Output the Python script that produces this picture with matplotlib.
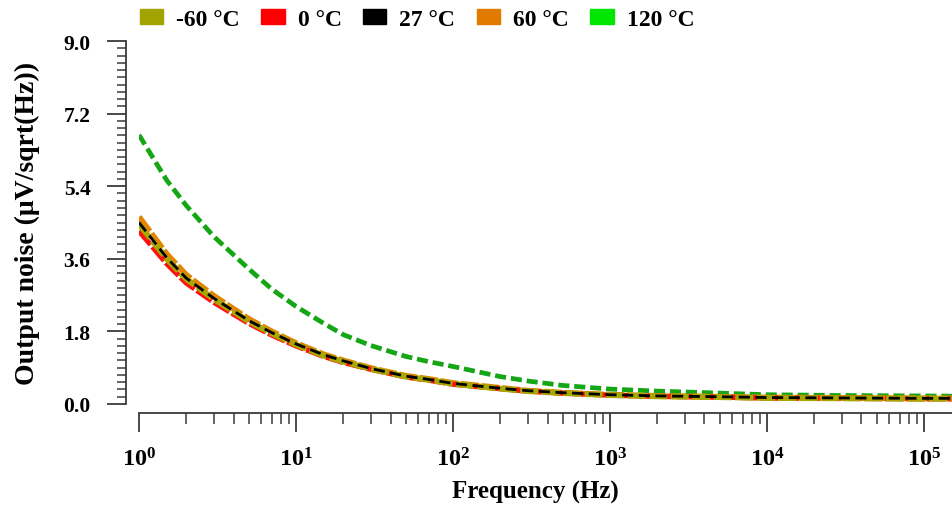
import matplotlib
matplotlib.use("Agg")
import matplotlib.pyplot as plt
import matplotlib.ticker as mticker
from matplotlib.patches import Patch
import numpy as np

plt.rcParams["font.family"] = ["Liberation Serif", "DejaVu Serif"]
plt.rcParams["font.weight"] = "bold"
plt.rcParams["lines.scale_dashes"] = False

# frequency points (Hz) and noise readings (uV/sqrt(Hz))
freq = [1, 1.5, 2, 3, 5, 7, 10, 15, 20, 30, 50, 70, 100, 200, 300, 500,
        1e3, 2e3, 5e3, 1e4, 3e4, 1e5, 2e5]
noise_m60 = [4.46, 3.60, 3.10, 2.60, 2.05, 1.75, 1.47, 1.20, 1.05, 0.87, 0.68, 0.60,
             0.50, 0.38, 0.32, 0.27, 0.22, 0.19, 0.17, 0.15, 0.14, 0.13, 0.13]
noise_0 = [4.29, 3.48, 3.00, 2.52, 2.00, 1.71, 1.44, 1.18, 1.03, 0.86, 0.67, 0.59,
           0.49, 0.38, 0.32, 0.27, 0.22, 0.19, 0.17, 0.15, 0.14, 0.13, 0.13]
noise_27 = [4.50, 3.63, 3.12, 2.62, 2.07, 1.77, 1.49, 1.22, 1.07, 0.88, 0.69, 0.61,
            0.51, 0.39, 0.33, 0.28, 0.23, 0.20, 0.18, 0.16, 0.15, 0.14, 0.14]
noise_60 = [4.64, 3.72, 3.20, 2.68, 2.11, 1.80, 1.51, 1.23, 1.08, 0.89, 0.70, 0.62,
            0.52, 0.40, 0.33, 0.28, 0.23, 0.20, 0.18, 0.16, 0.15, 0.14, 0.14]
noise_120 = [6.67, 5.55, 4.92, 4.15, 3.35, 2.85, 2.42, 2.00, 1.72, 1.45, 1.18, 1.05,
             0.93, 0.68, 0.57, 0.46, 0.37, 0.32, 0.27, 0.23, 0.21, 0.20, 0.19]

labels = ["-60 °C", "0 °C", "27 °C", "60 °C", "120 °C"]
legend_colors = ["#a3a300", "#ff0000", "#000000", "#e07b00", "#00e600"]

fig = plt.figure(figsize=(9.53, 5.10), dpi=100)
ax = fig.add_axes([139 / 953, 105 / 510, 814 / 953, 363 / 510])

ax.plot(freq, noise_120, color="#14a614", lw=3.4, dashes=(8, 3.5), zorder=1)
ax.plot(freq, noise_60, color="#e38500", lw=4.2, dashes=(13, 2), zorder=2)
ax.plot(freq, noise_0, color="#ff1010", lw=3.8, dashes=(13, 2), zorder=3)
ax.plot(freq, noise_m60, color="#a8a800", lw=4.2, dashes=(13, 2.5), zorder=4)
ax.plot(freq, noise_27, color="#000000", lw=2.0, dashes=(8, 4), zorder=5)

ax.set_xscale("log")
ax.set_xlim(1, 10 ** 5.185)
ax.set_ylim(0, 9)

ax.yaxis.set_major_locator(mticker.MultipleLocator(1.8))
ax.yaxis.set_minor_locator(mticker.MultipleLocator(0.18))
ax.yaxis.set_major_formatter(mticker.FormatStrFormatter("%.1f"))
ax.xaxis.set_major_locator(mticker.LogLocator(base=10, numticks=10))
ax.xaxis.set_minor_locator(mticker.LogLocator(base=10, subs=np.arange(2, 10), numticks=20))
ax.xaxis.set_minor_formatter(mticker.NullFormatter())

spine_color = "#3a3a3a"
for side in ["top", "right"]:
    ax.spines[side].set_visible(False)
ax.spines["left"].set_position(("outward", 9.4))
ax.spines["bottom"].set_position(("outward", 6.5))
ax.spines["left"].set_bounds(0, 9)
for side in ["left", "bottom"]:
    ax.spines[side].set_color(spine_color)
    ax.spines[side].set_linewidth(1.3)

ax.tick_params(axis="both", which="major", direction="out", length=13.5, width=1.3,
               color=spine_color)
ax.tick_params(axis="y", which="major", labelsize=15.5, pad=12)
ax.tick_params(axis="x", which="major", labelsize=17.5, pad=11)
ax.tick_params(axis="y", which="minor", direction="out", length=6.7, width=1.1, color=spine_color)
ax.tick_params(axis="x", which="minor", direction="out", length=8, width=1.1, color=spine_color)
for lbl in ax.get_xticklabels() + ax.get_yticklabels():
    lbl.set_fontweight("bold")

ax.set_xlabel("Frequency (Hz)", fontsize=18, fontweight="bold")
ax.set_ylabel("Output noise (μV/sqrt(Hz))", fontsize=20, fontweight="bold")
ax.xaxis.set_label_coords(0.4865, -0.209)
ax.yaxis.set_label_coords(-0.122, 0.5)

handles = [Patch(facecolor=c, edgecolor=c) for c in legend_colors]
fig.legend(handles, labels, loc="center", bbox_to_anchor=(417 / 953, 1 - 20 / 510),
           ncol=5, frameon=False, prop={"weight": "bold", "size": 17},
           handlelength=1.0, handleheight=0.6, handletextpad=0.55,
           columnspacing=0.9, borderpad=0)

fig.savefig("out.png", dpi=100)
